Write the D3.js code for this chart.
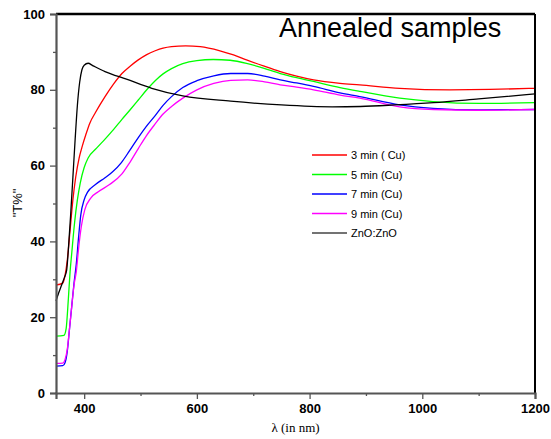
<!DOCTYPE html>
<html>
<head>
<meta charset="utf-8">
<script src="https://cdn.jsdelivr.net/npm/d3@7"></script>
<style>
  body { margin: 0; background: #fff; }
</style>
</head>
<body>
<div id="viz"></div>
<script>
// series names, colours and values
var seriesNames = ["3 min ( Cu)", "5 min (Cu)", "7 min (Cu)", "9 min (Cu)", "ZnO:ZnO"];
var seriesColors = ["#ff0000", "#00ff00", "#0000ff", "#ff00ff", "#000000"];

var red3 = [[350,28.5],[362,29],[366,31],[370,35],[375,43],[380,51],[385,57],[391,62],[396,64.8],[403,68.2],[410,71.2],[420,74],[437,78.2],[452,81.5],[467,84.3],[482,86.3],[496,87.9],[511,89.3],[526,90.3],[540,91],[555,91.4],[580,91.6],[606,91.4],[641,90.3],[665,89.2],[688,87.9],[718,86.3],[748,84.8],[777,83.6],[807,82.6],[854,81.7],[889,81.3],[960,80.4],[1049,80],[1120,80.1],[1200,80.4]];
var green5 = [[350,15],[364,15.2],[368,17],[372,25],[375,32],[378,37],[383,45],[388,51],[393,55.4],[400,59.5],[407,62],[422,64.6],[437,67],[452,69.5],[467,72.2],[482,74.8],[496,77.3],[511,80],[526,82.4],[540,84.2],[555,85.6],[575,86.9],[600,87.7],[629,88],[659,87.8],[688,87],[718,85.7],[748,84.3],[777,83.2],[807,82.2],[854,80.6],[889,79.6],[960,77.8],[1019,76.9],[1102,76.4],[1200,76.6]];
var blue7 = [[350,7.1],[362,7.2],[366,8],[370,11],[374,17],[378,23],[382,29],[386,34],[390,41],[394,47],[400,51],[406,53],[420,55],[437,56.8],[450,58.3],[466,60.8],[480,63.8],[496,67.4],[510,70.3],[526,73.2],[540,75.9],[555,78.2],[575,80.6],[600,82.4],[630,83.7],[660,84.3],[690,84.3],[720,83.6],[748,82.6],[777,81.8],[807,80.9],[854,79.2],[889,78.2],[960,76],[1019,75.1],[1100,74.7],[1200,74.8]];
var magenta9 = [[350,7.8],[362,7.9],[366,8.8],[370,11.5],[374,17],[378,23],[382,28.5],[386,32],[390,38],[395,44],[401,48.3],[412,51.5],[425,53.1],[445,55],[467,57.8],[480,60.6],[496,64.5],[510,67.8],[526,71],[540,73.6],[555,75.6],[575,77.8],[600,80],[630,81.7],[660,82.5],[690,82.6],[720,82.1],[748,81.3],[777,80.7],[807,80],[854,78.6],[889,77.8],[960,75.5],[1020,74.8],[1100,74.6],[1200,74.8]];
var znoZno = [[350,24.3],[355,26.5],[360,28.5],[365,30.5],[369,32.5],[372,38],[376,47],[380,57],[384,67],[388,76],[392,82],[396,85.3],[400,86.5],[407,87],[415,86.4],[437,84.8],[475,82.8],[520,80.4],[575,78.4],[660,77],[750,76],[840,75.5],[890,75.6],[950,76],[1020,76.6],[1100,77.6],[1200,78.9]];
var allSeries = [red3, green5, blue7, magenta9, znoZno];

var xTicks = [400, 600, 800, 1000, 1200];
var xMinorTicks = [500, 700, 900, 1100];
var yTicks = [0, 20, 40, 60, 80, 100];
var yMinorTicks = [10, 30, 50, 70, 90];

var chartTitle = "Annealed samples";
var xTitle = "\u03bb (in nm)";
var yTitle = "\"T%\"";

// drawing (plot box edges in pixels)
var W = 551, H = 439;
var plotL = 56, plotR = 535, plotT = 14, plotB = 393;

var svg = d3.select("#viz").append("svg")
  .attr("width", W).attr("height", H);

var x = d3.scaleLinear().domain([350, 1200]).range([plotL, plotR]);
var y = d3.scaleLinear().domain([0, 100]).range([plotB, plotT]);

// curves
var line = d3.line()
  .x(function (d) { return x(d[0]); })
  .y(function (d) { return y(d[1]); })
  .curve(d3.curveMonotoneX);

svg.append("g").selectAll("path").data(allSeries).enter().append("path")
  .attr("d", line)
  .attr("fill", "none")
  .attr("stroke", function (d, i) { return seriesColors[i]; })
  .attr("stroke-width", 1.3);

// frame: top and right in black
svg.append("line").attr("x1", plotL).attr("x2", plotR).attr("y1", plotT).attr("y2", plotT)
  .attr("stroke", "#000").attr("stroke-width", 2.5);
svg.append("line").attr("x1", plotR).attr("x2", plotR).attr("y1", plotT).attr("y2", plotB)
  .attr("stroke", "#000").attr("stroke-width", 2);

// left axis
svg.append("g").attr("transform", "translate(" + plotL + ",0)")
  .call(d3.axisLeft(y).tickValues(yTicks).tickSize(6).tickPadding(5).tickFormat(d3.format("d")));
svg.append("g").attr("transform", "translate(" + plotL + ",0)")
  .call(d3.axisLeft(y).tickValues(yMinorTicks).tickSize(3).tickFormat(""))
  .select(".domain").remove();

// bottom axis
svg.append("g").attr("transform", "translate(0," + plotB + ")")
  .call(d3.axisBottom(x).tickValues(xTicks).tickSize(6).tickPadding(5).tickFormat(d3.format("d")));
svg.append("g").attr("transform", "translate(0," + plotB + ")")
  .call(d3.axisBottom(x).tickValues(xMinorTicks).tickSize(3).tickFormat(""))
  .select(".domain").remove();

svg.selectAll(".domain").attr("stroke", "#555").attr("stroke-width", 2.2);
svg.selectAll(".tick line").attr("stroke", "#555").attr("stroke-width", 1.3);
svg.selectAll(".tick text")
  .attr("font-family", "Arial, 'Liberation Sans', sans-serif")
  .attr("font-size", 13).attr("font-weight", "bold").attr("fill", "#000");

// titles
svg.append("text").attr("x", 279).attr("y", 37)
  .attr("font-family", "Arial, 'Liberation Sans', sans-serif")
  .attr("font-size", 27).text(chartTitle);

svg.append("text").attr("x", (plotL + plotR) / 2).attr("y", 432)
  .attr("text-anchor", "middle")
  .attr("font-family", "'Times New Roman', 'Liberation Serif', serif")
  .attr("font-size", 13).text(xTitle);

svg.append("text").attr("transform", "translate(22,203) rotate(-90)")
  .attr("text-anchor", "middle")
  .attr("font-family", "Arial, 'Liberation Sans', sans-serif")
  .attr("font-size", 13).text(yTitle);

// legend
var legend = svg.append("g").selectAll("g").data(seriesNames).enter().append("g")
  .attr("transform", function (d, i) { return "translate(312," + (155 + i * 19.5) + ")"; });
legend.append("line").attr("x1", 0).attr("x2", 35).attr("y1", 0).attr("y2", 0)
  .attr("stroke", function (d, i) { return i === 4 ? "#444" : seriesColors[i]; })
  .attr("stroke-width", 1.3);
legend.append("text").attr("x", 39).attr("y", 4)
  .attr("font-family", "Arial, 'Liberation Sans', sans-serif")
  .attr("font-size", 11).text(function (d) { return d; });
</script>
</body>
</html>
